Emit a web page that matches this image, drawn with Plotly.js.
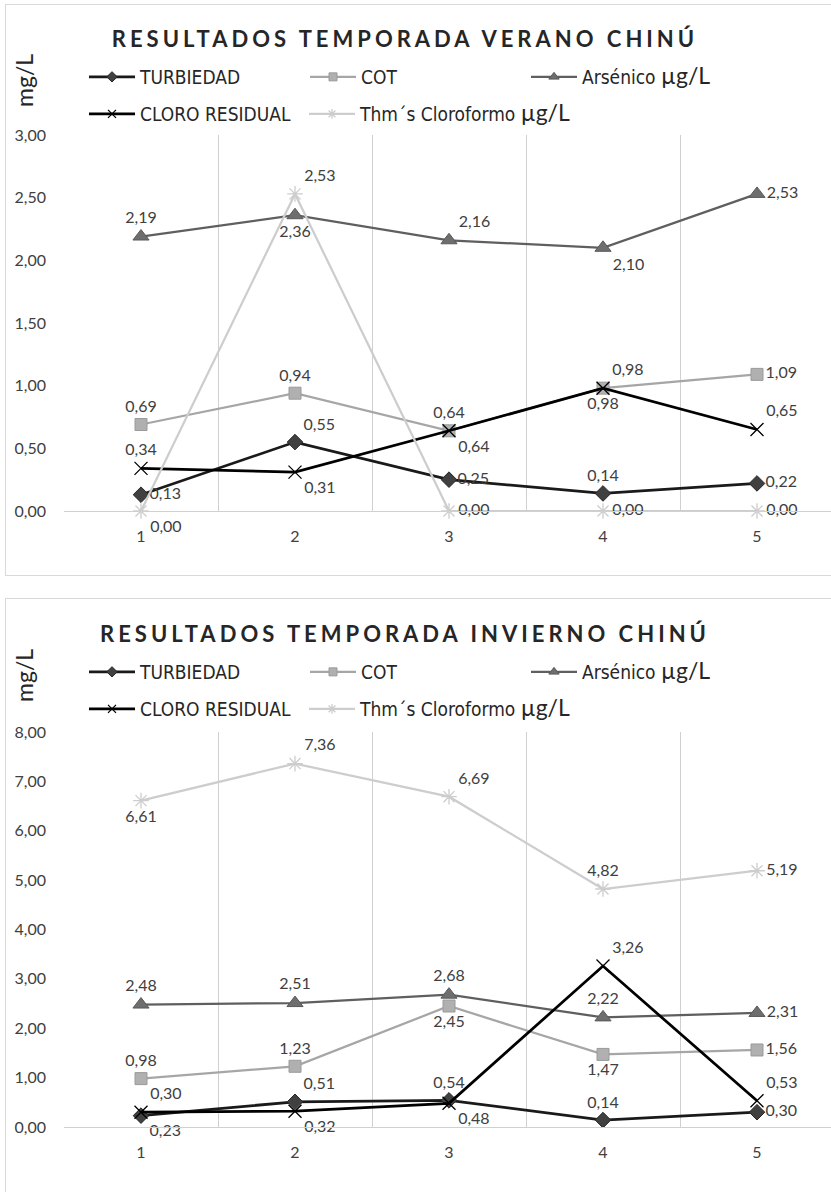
<!DOCTYPE html>
<html>
<head>
<meta charset="utf-8">
<script src="https://cdn.plot.ly/plotly-3.0.1.min.js"></script>
<style>
  html, body { margin:0; padding:0; background:#ffffff; overflow:hidden; width:831px; height:1192px; }
  .box { position:absolute; border:1px solid #d9d9d9; background:#ffffff; }
  .chart { position:absolute; left:0; width:831px; }
  .gtitle { letter-spacing:4px; }
</style>
</head>
<body>
<div class="box" style="left:5px; top:4px; width:840px; height:570px;"></div>
<div class="box" style="left:5px; top:598px; width:840px; height:700px;"></div>
<div id="verano" class="chart" style="top:0px; height:590px;"></div>
<div id="invierno" class="chart" style="top:595px; height:597px;"></div>
<script>
// ---- data ----
const categories = [1, 2, 3, 4, 5];
const seriesNames = ['TURBIEDAD', 'COT', 'Arsénico', 'CLORO RESIDUAL', 'Thm´s Cloroformo'];
const unitMicro = 'µg/L';
const unitAxis = 'mg/L';

const titleVerano = 'RESULTADOS TEMPORADA VERANO CHINÚ';
const veranoTurbiedad = [0.13, 0.55, 0.25, 0.14, 0.22];
const veranoCOT       = [0.69, 0.94, 0.64, 0.98, 1.09];
const veranoArsenico  = [2.19, 2.36, 2.16, 2.10, 2.53];
const veranoCloro     = [0.34, 0.31, 0.64, 0.98, 0.65];
const veranoThm       = [0.00, 2.53, 0.00, 0.00, 0.00];
const veranoYTicks    = [0, 0.5, 1, 1.5, 2, 2.5, 3];

const titleInvierno = 'RESULTADOS TEMPORADA INVIERNO CHINÚ';
const inviernoTurbiedad = [0.23, 0.51, 0.54, 0.14, 0.30];
const inviernoCOT       = [0.98, 1.23, 2.45, 1.47, 1.56];
const inviernoArsenico  = [2.48, 2.51, 2.68, 2.22, 2.31];
const inviernoCloro     = [0.30, 0.32, 0.48, 3.26, 0.53];
const inviernoThm       = [6.61, 7.36, 6.69, 4.82, 5.19];
const inviernoYTicks    = [0, 1, 2, 3, 4, 5, 6, 7, 8];

// ---- label positions (style) ----
const posVerano = {
  turb: ['middle right', 'top right', 'middle right', 'top center', 'middle right'],
  cot:  ['top center', 'top center', 'top center', 'bottom center', 'middle right'],
  ars:  ['top center', 'bottom center', 'top right', 'bottom right', 'middle right'],
  clo:  ['top center', 'bottom right', 'bottom right', 'top right', 'top right'],
  thm:  ['bottom right', 'top right', 'middle right', 'middle right', 'middle right']
};
const posInvierno = {
  turb: ['bottom right', 'top right', 'top center', 'top center', 'middle right'],
  cot:  ['top center', 'top center', 'bottom center', 'bottom center', 'middle right'],
  ars:  ['top center', 'top center', 'top center', 'top center', 'middle right'],
  clo:  ['top right', 'bottom right', 'bottom right', 'top right', 'top right'],
  thm:  ['bottom center', 'top right', 'top right', 'top center', 'middle right']
};

const LABEL_FONT = {family: 'Lato, "Open Sans", sans-serif', size: 16, color: '#404040'};
const LEGEND_FONT = {family: '"Liberation Sans Narrow", "DejaVu Sans Condensed", "Liberation Sans", sans-serif', size: 19, color: '#262626'};
const microSpan = '<span style="font-family:Lato, sans-serif;font-size:23px">' + unitMicro + '</span>';

const styles = [
  {line: {color: '#1a1a1a', width: 2.75}, symbol: 'diamond', size: 12, color: '#404040', mline: {color: '#262626', width: 1}},
  {line: {color: '#a6a6a6', width: 2.25}, symbol: 'square', size: 12, color: '#b0b0b0', mline: {color: '#9a9a9a', width: 1}},
  {line: {color: '#5f5f5f', width: 2.25}, symbol: 'triangle-up', size: 14, color: '#6e6e6e', mline: {color: '#595959', width: 1}},
  {line: {color: '#000000', width: 2.75}, symbol: 'x-thin-open', size: 13, color: '#000000', mline: {color: '#000000', width: 1.3}},
  {line: {color: '#cdcdcd', width: 2.25}, symbol: 'asterisk-open', size: 13, color: '#cdcdcd', mline: {color: '#c8c8c8', width: 1.3}}
];
const legendNames = [seriesNames[0], seriesNames[1], seriesNames[2] + ' ' + microSpan, seriesNames[3], seriesNames[4] + ' ' + microSpan];
const legendIds = ['legend', 'legend', 'legend', 'legend2', 'legend3'];

function makeTraces(series, pos) {
  const posList = [pos.turb, pos.cot, pos.ars, pos.clo, pos.thm];
  const traces = [];
  series.forEach(function (vals, i) {
    const s = styles[i];
    traces.push({
      x: categories, y: vals, type: 'scatter', mode: 'lines+markers+text', showlegend: false,
      texttemplate: '%{y:.2f}', textfont: LABEL_FONT, textposition: posList[i],
      cliponaxis: false, hoverinfo: 'skip', name: seriesNames[i],
      line: s.line, marker: {symbol: s.symbol, size: s.size, color: s.color, line: s.mline}
    });
  });
  // legend-only entries (smaller legend symbols, no data points)
  series.forEach(function (vals, i) {
    const s = styles[i];
    traces.push({
      x: [null], y: [null], type: 'scatter', mode: 'lines+markers', showlegend: true,
      name: legendNames[i], legend: legendIds[i], hoverinfo: 'skip',
      line: s.line, marker: {symbol: s.symbol, size: Math.round(s.size * 0.65), color: s.color, line: s.mline}
    });
  });
  return traces;
}

function makeLayout(title, height, top, bottom, yTicks, yMax) {
  const plotH = height - top - bottom;
  const legendBase = {
    orientation: 'h', xref: 'container', yref: 'container', xanchor: 'left', yanchor: 'middle',
    x: 84 / 831, entrywidth: 160, entrywidthmode: 'pixels', itemwidth: 46,
    font: LEGEND_FONT, bgcolor: 'rgba(0,0,0,0)', borderwidth: 0, tracegroupgap: 0,
    itemclick: false, itemdoubleclick: false
  };
  return {
    width: 831, height: height,
    margin: {l: 64, r: 0, t: top, b: bottom, pad: 0},
    paper_bgcolor: 'rgba(0,0,0,0)', plot_bgcolor: 'rgba(0,0,0,0)',
    separators: ',.',
    showlegend: true,
    title: {
      text: '<b>' + title + '</b>', xref: 'container', yref: 'container',
      x: 405 / 831, xanchor: 'center', y: 1 - 39 / height, yanchor: 'middle',
      font: {family: 'Lato, "Open Sans", sans-serif', size: 22, color: '#262626'}
    },
    legend: Object.assign({}, legendBase, {y: 1 - 77 / height}),
    legend2: Object.assign({}, legendBase, {y: 1 - 114 / height}),
    legend3: Object.assign({}, legendBase, {y: 1 - 114 / height, x: 304 / 831, entrywidth: 260}),
    xaxis: {
      type: 'linear', range: [0.5, 0.5 + 767 / 154], tickmode: 'array', tickvals: categories,
      ticktext: categories.map(String), showgrid: false, zeroline: false,
      showline: true, linecolor: '#d0d0d0', linewidth: 1, ticks: '', ticklabelstandoff: 11,
      tickfont: {family: 'Lato, "Open Sans", sans-serif', size: 16, color: '#404040'},
      minor: {tick0: 0.5, dtick: 1, showgrid: true, gridcolor: '#d0d0d0', gridwidth: 1, ticks: ''},
      fixedrange: true
    },
    yaxis: {
      range: [0, yMax], tickmode: 'array', tickvals: yTicks, tickformat: '.2f',
      showgrid: false, zeroline: false, showline: false, ticks: '', ticklabelstandoff: 17,
      tickfont: {family: 'Lato, "Open Sans", sans-serif', size: 16, color: '#404040'},
      fixedrange: true
    },
    annotations: [{
      text: unitAxis, textangle: -90, showarrow: false,
      xref: 'paper', yref: 'paper', x: (24 - 64) / 767, y: 1 + (top - 81) / plotH,
      xanchor: 'center', yanchor: 'middle',
      font: {family: 'Lato, "Open Sans", sans-serif', size: 23, color: '#262626'}
    }]
  };
}

const config = {staticPlot: true, displayModeBar: false};

Plotly.newPlot('verano',
  makeTraces([veranoTurbiedad, veranoCOT, veranoArsenico, veranoCloro, veranoThm], posVerano),
  makeLayout(titleVerano, 590, 135, 79, veranoYTicks, 3), config);

Plotly.newPlot('invierno',
  makeTraces([inviernoTurbiedad, inviernoCOT, inviernoArsenico, inviernoCloro, inviernoThm], posInvierno),
  makeLayout(titleInvierno, 597, 137, 65, inviernoYTicks, 8), config);
</script>
</body>
</html>
